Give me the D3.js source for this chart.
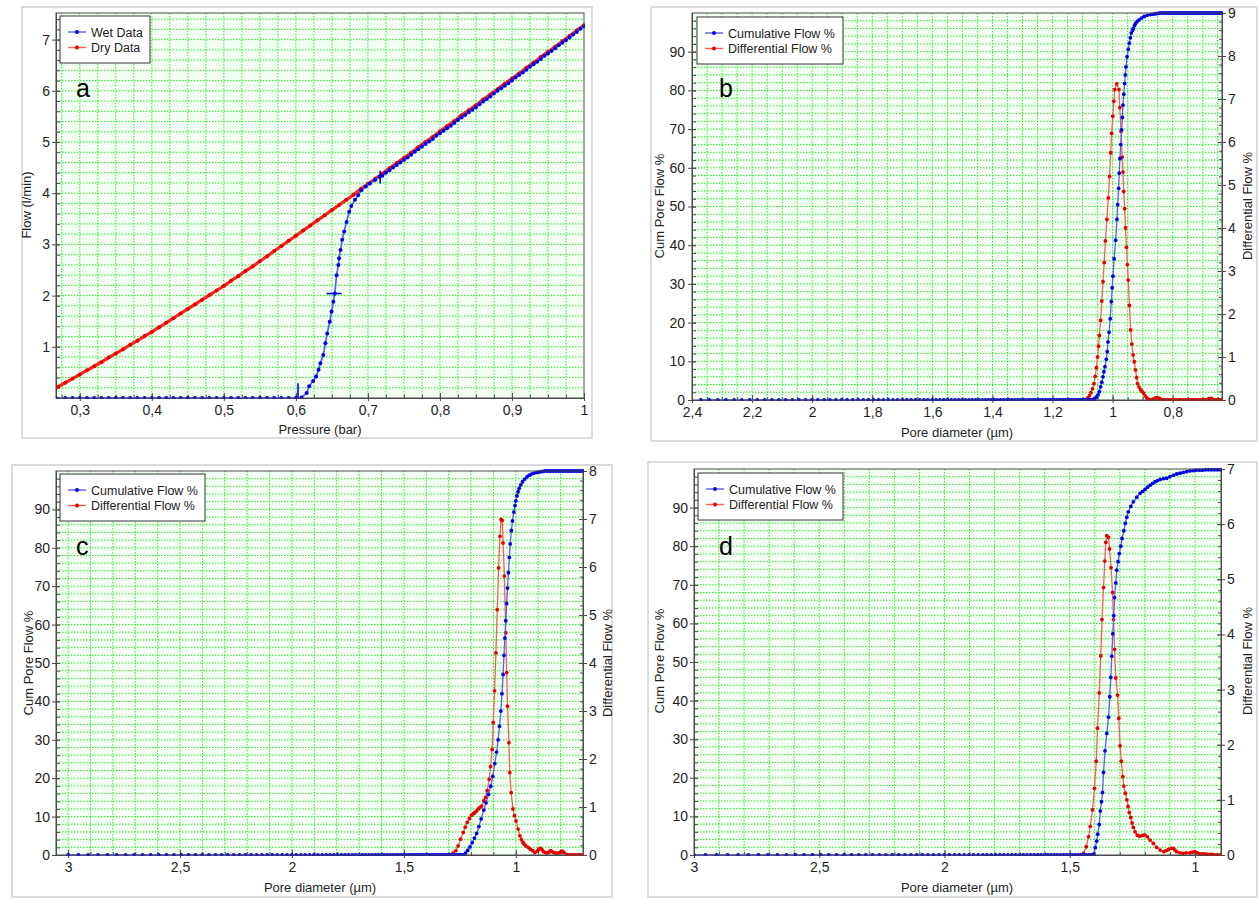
<!DOCTYPE html>
<html><head><meta charset="utf-8">
<script src="https://cdn.jsdelivr.net/npm/d3@7"></script>
<style>
body{margin:0;background:#fff;}
text{font-family:"Liberation Sans",Arial,Helvetica,sans-serif;}
</style>
</head><body>
<svg id="chart" width="1258" height="899"></svg>
<script>
// ---------------- DATA ----------------
// Panel a : Pressure (bar) vs Flow (l/min)
const aXTicks = [0.3,0.4,0.5,0.6,0.7,0.8,0.9,1.0];
const aXLabels = ["0,3","0,4","0,5","0,6","0,7","0,8","0,9","1"];
const aYTicks = [1,2,3,4,5,6,7];
const aYLabels = ["1","2","3","4","5","6","7"];
const aLegend = ["Wet Data","Dry Data"];
const aDry = [[0.267,0.20],[0.27,0.22],[0.28,0.30],[0.29,0.38],[0.30,0.46],[0.31,0.54],[0.32,0.62],[0.33,0.70],[0.34,0.79],[0.35,0.87],
[0.36,0.95],[0.37,1.04],[0.38,1.12],[0.39,1.21],[0.40,1.29],[0.41,1.38],[0.42,1.47],[0.43,1.56],[0.44,1.65],[0.45,1.74],
[0.46,1.83],[0.47,1.92],[0.48,2.01],[0.49,2.10],[0.50,2.19],[0.51,2.29],[0.52,2.38],[0.53,2.48],[0.54,2.57],[0.55,2.67],
[0.56,2.77],[0.57,2.87],[0.58,2.97],[0.59,3.07],[0.60,3.17],[0.61,3.27],[0.62,3.37],[0.63,3.47],[0.64,3.57],[0.65,3.67],
[0.66,3.77],[0.67,3.87],[0.68,3.97],[0.69,4.08],[0.70,4.18],[0.71,4.28],[0.72,4.38],[0.73,4.49],[0.74,4.59],[0.75,4.69],
[0.76,4.79],[0.77,4.90],[0.78,5.00],[0.79,5.10],[0.80,5.21],[0.81,5.31],[0.82,5.41],[0.83,5.52],[0.84,5.62],[0.85,5.72],
[0.86,5.83],[0.87,5.93],[0.88,6.03],[0.89,6.14],[0.90,6.24],[0.91,6.34],[0.92,6.45],[0.93,6.55],[0.94,6.66],[0.95,6.76],
[0.96,6.86],[0.97,6.97],[0.98,7.07],[0.99,7.18],[1.00,7.28]];
const aWet = [[0.267,0],[0.28,0],[0.29,0],[0.30,0],[0.31,0],[0.32,0],[0.33,0],[0.34,0],[0.35,0],[0.36,0],[0.37,0],[0.38,0],
[0.39,0],[0.40,0],[0.41,0],[0.42,0],[0.43,0],[0.44,0],[0.45,0],[0.46,0],[0.47,0],[0.48,0],[0.49,0],[0.50,0],[0.51,0],
[0.52,0],[0.53,0],[0.54,0],[0.55,0],[0.56,0],[0.57,0],[0.58,0],[0.59,0],[0.60,0],[0.6079,0.01],[0.615,0.10],[0.6185,0.23],
[0.624,0.33],[0.628,0.42],[0.6315,0.55],[0.634,0.68],[0.638,0.84],[0.641,1.07],[0.6435,1.26],[0.647,1.49],[0.6496,1.69],
[0.652,1.88],[0.654,2.04],[0.6565,2.40],[0.659,2.60],[0.660,2.73],[0.662,2.89],[0.6643,3.09],[0.667,3.25],[0.6704,3.44],
[0.674,3.64],[0.677,3.75],[0.682,3.87],[0.6865,3.96],[0.691,4.06],[0.697,4.13],[0.7028,4.19],[0.71,4.26],[0.7167,4.32],
[0.72,4.34],[0.725,4.40],[0.73,4.45],[0.735,4.50],[0.74,4.55],[0.745,4.60],[0.75,4.65],[0.755,4.70],[0.76,4.75],[0.765,4.81],
[0.77,4.86],[0.775,4.91],[0.78,4.96],[0.785,5.01],[0.79,5.06],[0.795,5.12],[0.80,5.17],[0.805,5.22],[0.81,5.27],[0.815,5.32],
[0.82,5.37],[0.825,5.43],[0.83,5.48],[0.835,5.53],[0.84,5.58],[0.845,5.63],[0.85,5.68],[0.855,5.74],[0.86,5.79],[0.865,5.84],
[0.87,5.89],[0.875,5.95],[0.88,6.00],[0.885,6.05],[0.89,6.10],[0.895,6.15],[0.90,6.20],[0.905,6.26],[0.91,6.31],[0.915,6.36],
[0.92,6.41],[0.925,6.47],[0.93,6.52],[0.935,6.57],[0.94,6.62],[0.945,6.68],[0.95,6.73],[0.955,6.78],[0.96,6.83],[0.965,6.89],
[0.97,6.94],[0.975,6.99],[0.98,7.04],[0.985,7.10],[0.99,7.15],[0.995,7.21],[1.00,7.26]];
const aWetMarks = [[[0.603,0],[0.603,0.29]],[[0.6426,2.04],[0.6635,2.04]],[[0.717,4.19],[0.717,4.44]]];

// Shared: pore diameters of the zero-flow points before the bubble point (µm)
const poreBaseline = [3.000,2.954,2.910,2.866,2.824,2.783,2.743,2.705,2.667,2.631,2.595,2.561,2.527,2.494,2.462,2.431,2.401,
2.371,2.342,2.314,2.287,2.260,2.234,2.208,2.183,2.158,2.134,2.111,2.088,2.066,2.044,2.022,2.001,1.981,1.960,1.941,1.921,
1.902,1.884,1.865,1.847,1.830,1.813,1.796,1.779,1.763,1.747,1.731,1.716,1.700,1.685,1.671,1.656,1.642,1.628,1.615,1.601,
1.588,1.575,1.562,1.550,1.537,1.525,1.513,1.501,1.490,1.478,1.467,1.456,1.445,1.434,1.423,1.413,1.403,1.393,1.383,1.373,
1.363,1.353,1.344,1.335,1.325,1.316,1.307,1.299,1.290,1.281,1.273,1.264,1.256,1.248,1.240,1.232,1.224,1.216,1.209,1.201,
1.194,1.186,1.179,1.172,1.165,1.158,1.151,1.144,1.137,1.131,1.124,1.117,1.111,1.105,1.098,1.092,1.086,1.080,1.074];

const psdLegend = ["Cumulative Flow %","Differential Flow %"];
const cumTicks = [0,10,20,30,40,50,60,70,80,90];
const cumLabels = ["0","10","20","30","40","50","60","70","80","90"];

// Panel b
const bXTicks = [2.4,2.2,2.0,1.8,1.6,1.4,1.2,1.0,0.8];
const bXLabels = ["2,4","2,2","2","1,8","1,6","1,4","1,2","1","0,8"];
const bY2Ticks = [0,1,2,3,4,5,6,7,8,9];
const bY2Labels = ["0","1","2","3","4","5","6","7","8","9"];
const bCum = [[1.068,0],[1.062,0.3],[1.059,0.4],[1.054,0.8],[1.049,1.3],[1.044,2.2],[1.040,3.4],[1.036,4.6],[1.032,6.0],
[1.029,7.3],[1.0255,8.6],[1.021,10.5],[1.018,12.5],[1.0155,15],[1.012,17.5],[1.008,21],[1.0044,25.4],[1.0015,29],[0.9989,32],
[0.995,36.5],[0.990,41.3],[0.9856,46.7],[0.983,50.5],[0.980,54.7],[0.978,58.6],[0.9756,62.4],[0.973,66],[0.970,69.8],
[0.9675,73],[0.9656,76.2],[0.963,79],[0.960,81.8],[0.958,84],[0.9556,86.1],[0.952,88.7],[0.948,90.6],[0.9445,92.2],[0.941,93.6],
[0.938,94.8],[0.934,95.5],[0.931,96],[0.927,96.8],[0.924,97.3],[0.918,97.8],[0.912,98.2],[0.904,98.7],[0.895,99.1],[0.885,99.4],
[0.874,99.6],[0.865,99.7],[0.857,99.8],[0.85,99.9],[0.843,100],[0.836,100],[0.83,100],[0.823,100],[0.816,100],[0.81,100],
[0.803,100],[0.797,100],[0.79,100],[0.784,100],[0.777,100],[0.771,100],[0.765,100],[0.758,100],[0.752,100],[0.746,100],
[0.74,100],[0.734,100],[0.728,100],[0.722,100],[0.716,100],[0.71,100],[0.704,100],[0.698,100],[0.692,100],[0.686,100],
[0.68,100],[0.674,100],[0.668,100],[0.662,100],[0.656,100],[0.65,100],[0.644,100],[0.638,100]];
const bDiff = [[1.095,0],[1.088,0.02],[1.082,0.05],[1.077,0.1],[1.072,0.17],[1.067,0.26],[1.062,0.38],[1.058,0.55],[1.054,0.75],
[1.050,1.0],[1.047,1.25],[1.044,1.5],[1.040,1.85],[1.036,2.3],[1.032,2.75],[1.028,3.2],[1.024,3.7],[1.019,4.2],[1.0144,4.7],
[1.010,5.2],[1.0065,5.75],[1.0033,6.2],[0.9995,6.6],[0.996,6.95],[0.993,7.22],[0.9865,7.35],[0.979,7.22],[0.976,6.8],
[0.972,6.25],[0.968,5.65],[0.9656,5.3],[0.963,4.85],[0.960,4.45],[0.957,4.0],[0.954,3.55],[0.951,3.15],[0.948,2.79],
[0.944,2.2],[0.9401,1.63],[0.936,1.3],[0.932,1.05],[0.928,0.89],[0.924,0.7],[0.92,0.52],[0.917,0.38],[0.912,0.3],[0.907,0.24],
[0.902,0.2],[0.897,0.16],[0.892,0.1],[0.887,0.05],[0.88,0.02],[0.875,0],[0.87,0],[0.865,0.02],[0.86,0.04],[0.855,0.05],
[0.85,0.05],[0.845,0.04],[0.84,0.02],[0.835,0],[0.83,0],[0.823,0],[0.816,0],[0.81,0],[0.803,0],[0.797,0],[0.79,0],[0.784,0],
[0.777,0],[0.771,0],[0.765,0],[0.758,0],[0.752,0],[0.746,0],[0.74,0],[0.734,0],[0.728,0],[0.722,0],[0.716,0],[0.71,0],
[0.704,0],[0.698,0],[0.692,0],[0.686,0.01],[0.68,0.03],[0.675,0.04],[0.67,0.03],[0.665,0.01],[0.66,0],[0.654,0],[0.648,0],
[0.642,0],[0.636,0]];

// Panel c
const cdXTicks = [3.0,2.5,2.0,1.5,1.0];
const cdXLabels = ["3","2,5","2","1,5","1"];
const cY2Ticks = [0,1,2,3,4,5,6,7,8];
const cY2Labels = ["0","1","2","3","4","5","6","7","8"];
const cCum = [[1.235,0],[1.225,0.5],[1.215,1.2],[1.205,2.1],[1.195,3.2],[1.185,4.4],[1.175,5.6],[1.165,7.4],[1.155,9.4],
[1.143,11.7],[1.133,13.6],[1.122,15.8],[1.112,17.9],[1.103,20.5],[1.094,23.8],[1.086,26.8],[1.079,30],[1.073,33.5],[1.067,37.5],
[1.062,42],[1.057,47],[1.053,52],[1.049,56.5],[1.045,61],[1.041,65.5],[1.037,69.5],[1.033,73.5],[1.029,77.5],[1.025,81],
[1.020,84.5],[1.015,87],[1.009,89.3],[1.004,91],[1.0,92.2],[0.995,93.5],[0.99,94.6],[0.985,95.5],[0.978,96.4],[0.97,97.2],
[0.96,97.9],[0.95,98.5],[0.94,98.9],[0.93,99.2],[0.92,99.4],[0.91,99.6],[0.90,99.7],[0.89,99.8],[0.88,99.9],[0.87,100],
[0.86,100],[0.85,100],[0.84,100],[0.83,100],[0.82,100],[0.81,100],[0.80,100],[0.79,100],[0.78,100],[0.77,100],[0.76,100],
[0.75,100],[0.74,100],[0.73,100],[0.72,100],[0.71,100],[0.70,100]];
const cDiff = [[1.29,0],[1.280,0.04],[1.268,0.09],[1.258,0.19],[1.247,0.33],[1.235,0.47],[1.226,0.58],[1.217,0.68],[1.207,0.76],
[1.198,0.83],[1.19,0.86],[1.183,0.88],[1.175,0.92],[1.168,0.96],[1.16,0.99],[1.153,1.02],[1.143,1.13],[1.135,1.2],[1.128,1.34],
[1.119,1.58],[1.113,1.84],[1.106,2.2],[1.101,2.76],[1.095,3.42],[1.089,4.21],[1.083,5.11],[1.077,5.98],[1.071,6.64],
[1.066,6.99],[1.061,6.97],[1.057,6.5],[1.051,5.81],[1.045,4.63],[1.041,3.8],[1.037,3.1],[1.031,2.34],[1.027,1.72],[1.021,1.3],
[1.013,0.96],[1.006,0.82],[0.999,0.71],[0.99,0.54],[0.982,0.4],[0.975,0.32],[0.968,0.26],[0.962,0.22],[0.955,0.19],[0.945,0.16],
[0.935,0.12],[0.925,0.09],[0.915,0.05],[0.905,0.08],[0.898,0.12],[0.89,0.14],[0.883,0.11],[0.876,0.07],[0.868,0.05],
[0.86,0.04],[0.852,0.06],[0.845,0.09],[0.838,0.07],[0.83,0.05],[0.82,0.04],[0.81,0.04],[0.804,0.05],[0.798,0.07],
[0.792,0.08],[0.785,0.05],[0.774,0.01],[0.765,0],[0.755,0],[0.745,0],[0.735,0],[0.725,0],[0.715,0],[0.705,0]];

// Panel d
const dY2Ticks = [0,1,2,3,4,5,6,7];
const dY2Labels = ["0","1","2","3","4","5","6","7"];
const dCum = [[1.405,0.2],[1.398,1.9],[1.392,3.6],[1.388,5.4],[1.382,7.9],[1.378,11.4],[1.373,13.8],[1.369,16.2],[1.365,21.4],
[1.359,27],[1.352,31.5],[1.345,35.7],[1.34,41],[1.336,46],[1.332,51.5],[1.328,57.3],[1.324,62],[1.321,66.7],[1.316,70.5],
[1.312,73.8],[1.307,76],[1.302,78.1],[1.296,80],[1.291,82],[1.284,84],[1.278,85.9],[1.272,87.5],[1.266,88.9],[1.256,90.3],
[1.246,91.5],[1.232,92.7],[1.219,93.7],[1.209,94.2],[1.199,94.7],[1.189,95.3],[1.179,95.8],[1.169,96.3],[1.159,96.7],
[1.149,97],[1.139,97.3],[1.126,97.5],[1.113,97.6],[1.1,98],[1.086,98.4],[1.073,98.7],[1.06,98.9],[1.047,99.1],[1.033,99.3],
[1.02,99.5],[1.007,99.6],[0.995,99.7],[0.982,99.7],[0.97,99.7],[0.958,99.8],[0.946,99.8],[0.934,99.8],[0.922,99.8],
[0.91,99.8],[0.898,99.8]];
const dDiff = [[1.455,0],[1.445,0.03],[1.434,0.15],[1.425,0.33],[1.418,0.52],[1.409,0.82],[1.401,1.21],[1.394,1.7],[1.389,2.3],
[1.382,2.94],[1.376,3.61],[1.371,4.27],[1.365,4.85],[1.36,5.33],[1.356,5.67],[1.352,5.79],[1.345,5.76],[1.341,5.55],
[1.335,5.21],[1.329,4.76],[1.325,4.27],[1.321,3.73],[1.316,3.21],[1.309,2.9],[1.304,2.48],[1.299,1.98],[1.294,1.7],
[1.288,1.42],[1.284,1.25],[1.278,1.12],[1.272,1.0],[1.267,0.88],[1.262,0.77],[1.256,0.68],[1.251,0.58],[1.246,0.5],
[1.239,0.42],[1.23,0.36],[1.221,0.34],[1.212,0.35],[1.205,0.36],[1.199,0.36],[1.19,0.33],[1.179,0.27],[1.166,0.21],
[1.153,0.14],[1.139,0.09],[1.124,0.06],[1.115,0.08],[1.106,0.1],[1.096,0.12],[1.086,0.12],[1.08,0.09],[1.073,0.06],
[1.06,0.04],[1.047,0.03],[1.035,0.04],[1.02,0.04],[1.01,0.05],[1.0,0.06],[0.99,0.04],[0.98,0.02],[0.97,0.02],[0.96,0.02],
[0.95,0.01],[0.94,0.01],[0.93,0.01],[0.92,0],[0.91,0],[0.898,0]];

// ---------------- DRAWING ----------------
const svg = d3.select("#chart");
const BLUE_L = "#5a5aff", BLUE_D = "#0000e8", RED_L = "#ff5a5a", RED_D = "#e80000";
const GRID = "#2fe02f", AX = "#4a4a4a", TXT = "#1e1e1e";
let clipN = 0;

function styleAxis(sel, fs) {
  sel.attr("font-family", null).attr("font-size", null);
  sel.selectAll(".domain").attr("stroke", AX);
  sel.selectAll(".tick line").attr("stroke", AX);
  sel.selectAll(".tick text").attr("fill", TXT).style("font-size", (fs||14) + "px");
}

function panel(cfg) {
  const g = svg.append("g");
  const [bx0, by0, bx1, by1] = cfg.box;
  g.append("rect").attr("x", bx0).attr("y", by0).attr("width", bx1 - bx0).attr("height", by1 - by0)
    .attr("fill", "none").attr("stroke", "#d0d0d0").attr("stroke-width", 1.5);
  const { l, r, t, b } = cfg.plot;
  const x = d3.scaleLinear().domain(cfg.xDomain).range([l, r]);
  const y = d3.scaleLinear().domain(cfg.yDomain).range([b, t]);
  const y2 = cfg.y2Domain ? d3.scaleLinear().domain(cfg.y2Domain).range([b, t]) : null;

  g.append("rect").attr("x", l).attr("y", t).attr("width", r - l).attr("height", b - t).attr("fill", "#f4fff4");

  const id = "clip" + (clipN++);
  g.append("clipPath").attr("id", id).append("rect").attr("x", l).attr("y", t - 2).attr("width", r - l + 1).attr("height", b - t + 3);

  const grid = g.append("g").attr("stroke", GRID).attr("stroke-width", 1).attr("stroke-dasharray", "1.5,1.5");
  cfg.xGrid.forEach(v => grid.append("line").attr("x1", x(v)).attr("x2", x(v)).attr("y1", t).attr("y2", b));
  cfg.yGrid.forEach(v => grid.append("line").attr("y1", y(v)).attr("y2", y(v)).attr("x1", l).attr("x2", r));

  // axes
  const bot = g.append("g").attr("transform", `translate(0,${b})`)
    .call(d3.axisBottom(x).tickValues(cfg.xTicks).tickFormat((d, i) => cfg.xLabels[i]).tickSizeInner(3).tickSizeOuter(0).tickPadding(4));
  styleAxis(bot);
  styleAxis(g.append("g").attr("transform", `translate(0,${b})`)
    .call(d3.axisBottom(x).tickValues(cfg.xTicks).tickFormat("").tickSizeInner(-5).tickSizeOuter(0)));
  styleAxis(g.append("g").attr("transform", `translate(0,${b})`)
    .call(d3.axisBottom(x).tickValues(cfg.xGrid).tickFormat("").tickSizeInner(-3).tickSizeOuter(0)));

  const left = g.append("g").attr("transform", `translate(${l},0)`)
    .call(d3.axisLeft(y).tickValues(cfg.yTicks).tickFormat((d, i) => cfg.yLabels[i]).tickSizeInner(4).tickSizeOuter(0).tickPadding(cfg.lpad || 2));
  styleAxis(left);
  styleAxis(g.append("g").attr("transform", `translate(${l},0)`)
    .call(d3.axisLeft(y).tickValues(cfg.yTicks).tickFormat("").tickSizeInner(-4).tickSizeOuter(0)));
  styleAxis(g.append("g").attr("transform", `translate(${l},0)`)
    .call(d3.axisLeft(y).tickValues(cfg.yGrid).tickFormat("").tickSizeInner(-4).tickSizeOuter(0)));

  if (y2) {
    const right = g.append("g").attr("transform", `translate(${r},0)`)
      .call(d3.axisRight(y2).tickValues(cfg.y2Ticks).tickFormat((d, i) => cfg.y2Labels[i]).tickSizeInner(4).tickSizeOuter(0).tickPadding(2));
    styleAxis(right);
    styleAxis(g.append("g").attr("transform", `translate(${r},0)`)
      .call(d3.axisRight(y2).tickValues(cfg.y2Ticks).tickFormat("").tickSizeInner(-4).tickSizeOuter(0)));
    styleAxis(g.append("g").attr("transform", `translate(${r},0)`)
      .call(d3.axisRight(y2).tickValues(cfg.y2Minor).tickFormat("").tickSizeInner(-3).tickSizeOuter(0)));
  }

  // series
  const plot = g.append("g").attr("clip-path", `url(#${id})`);
  cfg.series.forEach(s => {
    const sy = s.axis === 2 ? y2 : y;
    const line = d3.line().x(d => x(d[0])).y(d => sy(d[1]));
    plot.append("path").datum(s.data).attr("d", line).attr("fill", "none")
      .attr("stroke", s.lineColor).attr("stroke-width", s.lw || 1.3);
    plot.append("g").selectAll("circle").data(s.data).join("circle")
      .attr("cx", d => x(d[0])).attr("cy", d => sy(d[1])).attr("r", s.r || 1.9).attr("fill", s.dotColor);
  });
  if (cfg.marks) {
    cfg.marks.forEach(m => plot.append("line").attr("x1", x(m[0][0])).attr("y1", y(m[0][1]))
      .attr("x2", x(m[1][0])).attr("y2", y(m[1][1])).attr("stroke", BLUE_D).attr("stroke-width", 1.6));
  }

  // frame
  g.append("rect").attr("x", l).attr("y", t).attr("width", r - l).attr("height", b - t)
    .attr("fill", "none").attr("stroke", AX).attr("stroke-width", 1);

  // legend
  const L = cfg.legend;
  const lg = g.append("g");
  lg.append("rect").attr("x", L.x).attr("y", L.y).attr("width", L.w).attr("height", L.h)
    .attr("fill", "#fff").attr("stroke", "#333").attr("stroke-width", 1);
  L.items.forEach((it, i) => {
    const yy = L.y + 16 + i * 15.5;
    lg.append("line").attr("x1", L.x + 8).attr("x2", L.x + 26).attr("y1", yy).attr("y2", yy)
      .attr("stroke", it.lc).attr("stroke-width", 1.4);
    lg.append("circle").attr("cx", L.x + 17).attr("cy", yy).attr("r", 2).attr("fill", it.dc);
    lg.append("text").attr("x", L.x + 31).attr("y", yy + 4.5).attr("fill", "#222").style("font-size", "12.5px").text(it.label);
  });

  // letter
  g.append("text").attr("x", cfg.letter.x).attr("y", cfg.letter.y).style("font-size", "25px").attr("fill", "#000").text(cfg.letter.t);

  // titles
  const T = cfg.titles;
  g.append("text").attr("transform", `translate(${T.ly[0]},${T.ly[1]}) rotate(-90)`).attr("text-anchor", "middle")
    .style("font-size", "13px").attr("fill", TXT).text(T.ly[2]);
  if (T.ry) g.append("text").attr("transform", `translate(${T.ry[0]},${T.ry[1]}) rotate(-90)`).attr("text-anchor", "middle")
    .style("font-size", "13px").attr("fill", TXT).text(T.ry[2]);
  g.append("text").attr("x", T.x[0]).attr("y", T.x[1]).attr("text-anchor", "middle")
    .style("font-size", "13px").attr("fill", TXT).text(T.x[2]);
}

const step = (a, b, s) => d3.range(Math.round(a / s), Math.round(b / s) + 1).map(k => +(k * s).toFixed(4));
const psdItems = [{ label: psdLegend[0], lc: BLUE_L, dc: BLUE_D }, { label: psdLegend[1], lc: RED_L, dc: RED_D }];
const withBase = (rise, lim) => poreBaseline.filter(d => d > rise[0][0] + 0.003 && d <= lim).map(d => [d, 0]).concat(rise);

// Panel a
panel({
  box: [22, 7, 592, 438],
  plot: { l: 56, r: 584, t: 13, b: 398 },
  xDomain: [0.267, 1.0], yDomain: [0, 7.52],
  xTicks: aXTicks, xLabels: aXLabels, yTicks: aYTicks, yLabels: aYLabels,
  xGrid: step(0.275, 0.975, 0.025), yGrid: step(0.2, 7.4, 0.2),
  series: [
    { data: aDry, lineColor: "#ff2020", dotColor: RED_D, lw: 3.2, r: 2 },
    { data: aWet, lineColor: BLUE_L, dotColor: BLUE_D, lw: 1.7, r: 2 }
  ],
  marks: aWetMarks,
  legend: { x: 60, y: 16, w: 90, h: 47, items: [{ label: aLegend[0], lc: BLUE_L, dc: BLUE_D }, { label: aLegend[1], lc: RED_L, dc: RED_D }] },
  letter: { x: 76, y: 97, t: "a" },
  titles: { ly: [31, 205, "Flow (l/min)"], x: [320, 434, "Pressure (bar)"] }
});

// Panel b
panel({
  box: [651, 7, 1257, 441],
  plot: { l: 692, r: 1222, t: 13, b: 400 },
  xDomain: [2.4, 0.636], yDomain: [0, 100], y2Domain: [0, 9],
  xTicks: bXTicks, xLabels: bXLabels, yTicks: cumTicks, yLabels: cumLabels, lpad: 3,
  y2Ticks: bY2Ticks, y2Labels: bY2Labels, y2Minor: step(0.2, 8.8, 0.2),
  xGrid: step(0.65, 2.35, 0.05), yGrid: step(2, 98, 2),
  series: [
    { data: bDiff, lineColor: RED_L, dotColor: RED_D, axis: 2 },
    { data: withBase(bCum, 2.4), lineColor: BLUE_L, dotColor: BLUE_D }
  ],
  legend: { x: 697, y: 17, w: 146, h: 47, items: psdItems },
  letter: { x: 719, y: 97, t: "b" },
  titles: { ly: [664, 206, "Cum Pore Flow %"], ry: [1252, 206, "Differential Flow %"], x: [957, 437, "Pore diameter (µm)"] }
});

// Panel c
panel({
  box: [12, 465, 612, 897],
  plot: { l: 56, r: 583, t: 471, b: 855 },
  xDomain: [3.054, 0.70], yDomain: [0, 100], y2Domain: [0, 8],
  xTicks: cdXTicks, xLabels: cdXLabels, yTicks: cumTicks, yLabels: cumLabels,
  y2Ticks: cY2Ticks, y2Labels: cY2Labels, y2Minor: step(0.2, 7.8, 0.2),
  xGrid: step(0.8, 3.0, 0.1), yGrid: step(2, 98, 2),
  series: [
    { data: cDiff, lineColor: RED_L, dotColor: RED_D, axis: 2 },
    { data: withBase(cCum, 3.06), lineColor: BLUE_L, dotColor: BLUE_D }
  ],
  legend: { x: 60, y: 474, w: 145, h: 47, items: psdItems },
  letter: { x: 76, y: 555, t: "c" },
  titles: { ly: [33, 663, "Cum Pore Flow %"], ry: [612, 663, "Differential Flow %"], x: [320, 892, "Pore diameter (µm)"] }
});

// Panel d
panel({
  box: [648, 462, 1257, 897],
  plot: { l: 694, r: 1221, t: 469, b: 855 },
  xDomain: [3.0, 0.896], yDomain: [0, 100], y2Domain: [0, 7],
  xTicks: cdXTicks, xLabels: cdXLabels, yTicks: cumTicks, yLabels: cumLabels,
  y2Ticks: dY2Ticks, y2Labels: dY2Labels, y2Minor: step(0.2, 6.8, 0.2),
  xGrid: step(1.0, 2.9, 0.1), yGrid: step(2, 98, 2),
  series: [
    { data: dDiff, lineColor: RED_L, dotColor: RED_D, axis: 2 },
    { data: withBase(dCum, 3.0), lineColor: BLUE_L, dotColor: BLUE_D }
  ],
  legend: { x: 698, y: 473, w: 145, h: 47, items: psdItems },
  letter: { x: 719, y: 555, t: "d" },
  titles: { ly: [664, 661, "Cum Pore Flow %"], ry: [1252, 661, "Differential Flow %"], x: [957, 892, "Pore diameter (µm)"] }
});
</script>
</body></html>
